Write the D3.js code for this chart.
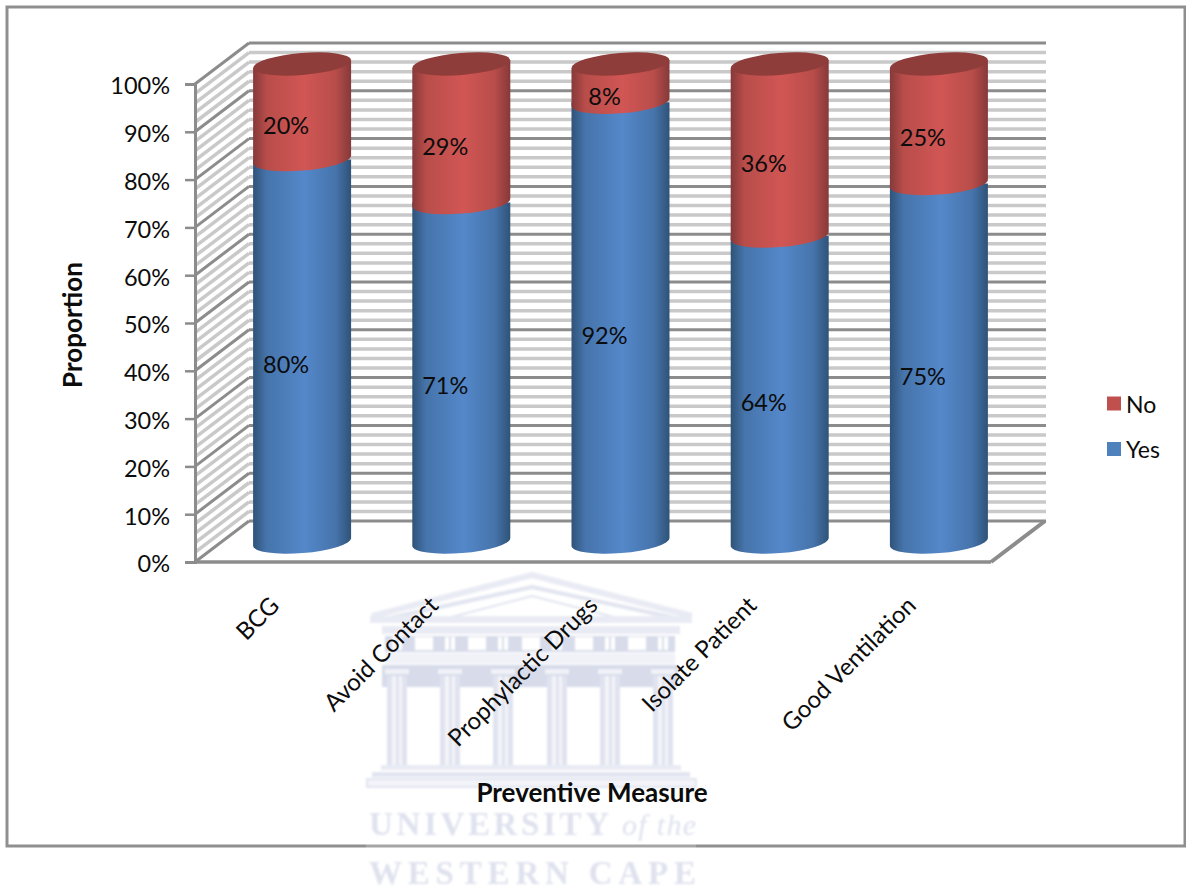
<!DOCTYPE html>
<html>
<head>
<meta charset="utf-8">
<script src="https://cdn.jsdelivr.net/npm/d3@7/dist/d3.min.js"></script>
<style>
  html, body { margin: 0; padding: 0; background: #fff; }
  svg { display: block; }
  text { font-family: Lato, "Open Sans", sans-serif; fill: #0c0c0c; }
</style>
</head>
<body>
<svg id="chart" width="1186" height="890"></svg>
<script>
// Prevention measures, stacked share of Yes / No answers
const categories = ["BCG", "Avoid Contact", "Prophylactic Drugs", "Isolate Patient", "Good Ventilation"];
const yesValues = [80, 71, 92, 64, 75];
const noValues = [20, 29, 8, 36, 25];
const yTicks = [0, 10, 20, 30, 40, 50, 60, 70, 80, 90, 100];
const minorTicks = d3.range(0, 101, 2).filter(v => v % 10 !== 0);
const legendItems = [["No", "#c0504d"], ["Yes", "#4f81bd"]];

// Crest columns behind the chart
const crestColumns = [397, 450, 503, 557, 610, 663];
const crestMetopes = [415, 468, 522, 575, 628];

const svg = d3.select("#chart");
const defs = svg.append("defs");
defs.append("filter").attr("id", "crestSoft").append("feGaussianBlur").attr("stdDeviation", 0.8);

// Horizontal shading that makes each bar read as a cylinder
function shade(id, edge, mid, peak) {
  const g = defs.append("linearGradient").attr("id", id)
    .attr("x1", 0).attr("x2", 1).attr("y1", 0).attr("y2", 0);
  [[0, edge], [0.14, mid], [0.52, peak], [0.84, mid], [1, edge]].forEach(([o, c]) =>
    g.append("stop").attr("offset", o).attr("stop-color", c));
}
shade("blueShade", "#2f5378", "#4674ab", "#5488ca");
shade("redShade", "#86393a", "#b84d4a", "#d15654");

// University crest, pale and underneath everything else
const crest = svg.append("g").attr("class", "crest").attr("filter", "url(#crestSoft)");
const pale = "#e2e5f0", paler = "#e9ebf4", deep = "#d7dbea";
crest.append("path").attr("d", "M372,616 L532,575 L692,616")
  .attr("fill", "none").attr("stroke", paler).attr("stroke-width", 6);
crest.append("path").attr("d", "M385,619 L532,587 L680,619")
  .attr("fill", "none").attr("stroke", pale).attr("stroke-width", 4);
crest.append("path").attr("d", "M440,620 L532,596 L626,620")
  .attr("fill", "none").attr("stroke", pale).attr("stroke-width", 2);
crest.append("rect").attr("x", 370).attr("y", 616).attr("width", 322).attr("height", 7).attr("fill", paler);
crest.append("rect").attr("x", 382).attr("y", 626).attr("width", 298).attr("height", 8).attr("fill", paler);
crest.append("rect").attr("x", 385).attr("y", 636).attr("width", 290).attr("height", 16).attr("fill", deep);
crest.selectAll("rect.metope").data(crestMetopes).join("rect").attr("class", "metope")
  .attr("x", d => d).attr("y", 637).attr("width", 18).attr("height", 13).attr("fill", "#fff");
crest.selectAll("rect.slitA").data(crestColumns).join("rect").attr("class", "slitA")
  .attr("x", d => d - 5).attr("y", 637).attr("width", 4).attr("height", 13).attr("fill", "#fff");
crest.selectAll("rect.slitB").data(crestColumns).join("rect").attr("class", "slitB")
  .attr("x", d => d + 1).attr("y", 637).attr("width", 4).attr("height", 13).attr("fill", "#fff");
crest.append("rect").attr("x", 385).attr("y", 653).attr("width", 290).attr("height", 11).attr("fill", "#f1f2f8");
crest.append("rect").attr("x", 382).attr("y", 665).attr("width", 296).attr("height", 22).attr("fill", deep);
crest.selectAll("rect.cap").data(crestColumns).join("rect").attr("class", "cap")
  .attr("x", d => d - 12).attr("y", 669).attr("width", 24).attr("height", 5).attr("fill", "#f1f2f8");
crest.selectAll("rect.shaft").data(crestColumns).join("rect").attr("class", "shaft")
  .attr("x", d => d - 10).attr("y", 676).attr("width", 20).attr("height", 90).attr("fill", "#e0e3ef");
crest.selectAll("rect.grooveA").data(crestColumns).join("rect").attr("class", "grooveA")
  .attr("x", d => d - 5).attr("y", 676).attr("width", 4).attr("height", 90).attr("fill", "#f3f4f9");
crest.selectAll("rect.grooveB").data(crestColumns).join("rect").attr("class", "grooveB")
  .attr("x", d => d + 2).attr("y", 676).attr("width", 3).attr("height", 90).attr("fill", "#f3f4f9");
crest.append("rect").attr("x", 381).attr("y", 765).attr("width", 300).attr("height", 5).attr("fill", paler);
crest.append("rect").attr("x", 372).attr("y", 772).attr("width", 318).attr("height", 5).attr("fill", pale);
crest.append("rect").attr("x", 367).attr("y", 779).attr("width", 329).attr("height", 8).attr("fill", "#f3f4f9")
  .attr("stroke", pale).attr("stroke-width", 2);
crest.append("text").attr("x", 369).attr("y", 835).attr("textLength", 240).attr("lengthAdjust", "spacing")
  .style("font-family", "'Liberation Serif', serif").style("font-weight", 700).style("font-size", "33px")
  .style("fill", "#dfe2ee").text("UNIVERSITY");
crest.append("text").attr("x", 622).attr("y", 835).attr("textLength", 74).attr("lengthAdjust", "spacing")
  .style("font-family", "'Liberation Serif', serif").style("font-style", "italic").style("font-size", "30px")
  .style("fill", "#dfe2ee").text("of the");
crest.append("text").attr("x", 369).attr("y", 884).attr("textLength", 327).attr("lengthAdjust", "spacing")
  .style("font-family", "'Liberation Serif', serif").style("font-weight", 700).style("font-size", "33px")
  .style("fill", "#dfe2ee").text("WESTERN  CAPE");

// Outer chart border
svg.append("rect").attr("x", 7).attr("y", 7).attr("width", 1178).attr("height", 839)
  .attr("fill", "none").attr("stroke", "#8f8f8f").attr("stroke-width", 3);
svg.append("rect").attr("x", 366).attr("y", 843).attr("width", 330).attr("height", 6)
  .attr("fill", "#fff").attr("opacity", 0.2);

// Scales: front plane of the 3-D box, plus the depth offset of its back wall
const x = d3.scaleBand().domain(categories).range([195, 991]);
const y = d3.scaleLinear().domain([0, 100]).range([562, 84]);
const depthX = 54, depthY = -41;
const barShiftX = 27.5, barShiftY = -20;
const rx = 49, ry = 11, tilt = 4;

const wall = svg.append("g").attr("class", "walls").attr("fill", "none");
const gridLight = "#c9c9c9", gridDark = "#8c8c8c";

// Minor grid on the back and side walls
wall.selectAll("line.backMinor").data(minorTicks).join("line").attr("class", "backMinor")
  .attr("x1", 195 + depthX).attr("x2", 991 + depthX + 1)
  .attr("y1", d => y(d) + depthY).attr("y2", d => y(d) + depthY)
  .attr("stroke", gridLight).attr("stroke-width", 3.5);
wall.selectAll("line.sideMinor").data(minorTicks).join("line").attr("class", "sideMinor")
  .attr("x1", 195).attr("x2", 195 + depthX)
  .attr("y1", d => y(d)).attr("y2", d => y(d) + depthY)
  .attr("stroke", gridLight).attr("stroke-width", 3.5);

// Major grid, which also closes the floor edges
wall.selectAll("line.backMajor").data(yTicks).join("line").attr("class", "backMajor")
  .attr("x1", 195 + depthX).attr("x2", 991 + depthX + 1)
  .attr("y1", d => y(d) + depthY).attr("y2", d => y(d) + depthY)
  .attr("stroke", gridDark).attr("stroke-width", 3);
wall.selectAll("line.sideMajor").data(yTicks).join("line").attr("class", "sideMajor")
  .attr("x1", 195).attr("x2", 195 + depthX)
  .attr("y1", d => y(d)).attr("y2", d => y(d) + depthY)
  .attr("stroke", gridDark).attr("stroke-width", 3);
wall.append("line").attr("x1", 991).attr("x2", 991 + depthX)
  .attr("y1", y(0)).attr("y2", y(0) + depthY)
  .attr("stroke", gridDark).attr("stroke-width", 4);
wall.append("line").attr("x1", 195).attr("x2", 991)
  .attr("y1", y(0)).attr("y2", y(0))
  .attr("stroke", gridDark).attr("stroke-width", 3.5);

// Value axis
const yAxis = svg.append("g").attr("transform", "translate(195,0)")
  .call(d3.axisLeft(y).tickValues(yTicks).tickSize(10).tickPadding(15).tickFormat(d => d + "%"));
yAxis.select(".domain").attr("stroke", gridDark).attr("stroke-width", 3);
yAxis.selectAll(".tick line").attr("stroke", gridDark).attr("stroke-width", 2.5);
yAxis.selectAll(".tick text").attr("dy", "0.42em").style("font-family", "Lato, sans-serif").style("font-size", "23.5px")
  .style("fill", "#0c0c0c");

// Category labels, slanted and ending under each bar
svg.append("g").selectAll("text").data(categories).join("text")
  .attr("text-anchor", "end")
  .attr("transform", d => `translate(${x(d) + x.bandwidth() / 2 + 6},${607}) rotate(-45)`)
  .style("font-size", "24px").text(d => d);

// Cylinders, one stacked pair per category
const bars = svg.append("g").selectAll("g").data(categories.map((c, i) => ({
  c, yes: yesValues[i], no: noValues[i]
}))).join("g");

const cx = d => x(d.c) + x.bandwidth() / 2 + barShiftX;
const by = v => y(v) + barShiftY;
const rot = -Math.asin(tilt / rx) * 180 / Math.PI;
const frontArc = (x1, yRight) => `A${rx},${ry} ${rot} 0 0 ${x1},${yRight}`;

bars.append("path").attr("fill", "url(#blueShade)").attr("d", d => {
  const c = cx(d), l = c - rx, r = c + rx;
  return `M${l},${by(d.yes)} L${l},${by(0) + tilt} ` + frontArc(r, by(0) - tilt) +
    ` L${r},${by(d.yes)} Z`;
});
bars.append("path").attr("fill", "url(#redShade)").attr("d", d => {
  const c = cx(d), l = c - rx, r = c + rx, t = d.yes + d.no;
  return `M${l},${by(t) + tilt} L${l},${by(d.yes) + tilt} ` + frontArc(r, by(d.yes) - tilt) +
    ` L${r},${by(t) - tilt} Z`;
});
bars.append("ellipse").attr("fill", "#8f3d3a")
  .attr("rx", rx).attr("ry", ry)
  .attr("transform", d => `translate(${cx(d)},${by(d.yes + d.no)}) rotate(${rot})`);

// Value labels sit left of the bar axis, just below each segment's middle
const labelDx = -16, labelDy = 13;
bars.append("text").attr("text-anchor", "middle").attr("dominant-baseline", "central")
  .attr("x", d => cx(d) + labelDx).attr("y", d => by(d.yes / 2) + labelDy)
  .style("font-size", "23.5px").text(d => d.yes + "%");
bars.append("text").attr("text-anchor", "middle").attr("dominant-baseline", "central")
  .attr("x", d => cx(d) + labelDx).attr("y", d => by(d.yes + d.no / 2) + labelDy)
  .style("font-size", "23.5px").text(d => d.no + "%");

// Axis titles
svg.append("text").attr("text-anchor", "middle").attr("transform", "translate(82,325) rotate(-90)")
  .style("font-size", "26px").style("font-weight", 700).text("Proportion");
svg.append("text").attr("text-anchor", "middle").attr("x", 592).attr("y", 802)
  .style("font-size", "26px").style("font-weight", 700).text("Preventive Measure");

// Legend
const legend = svg.append("g").selectAll("g").data(legendItems).join("g")
  .attr("transform", (d, i) => `translate(1107,${396.5 + i * 45.5})`);
legend.append("rect").attr("width", 14).attr("height", 14).attr("fill", d => d[1]);
legend.append("text").attr("x", 19).attr("y", 7).attr("dominant-baseline", "central")
  .style("font-size", "23px").text(d => d[0]);
</script>
</body>
</html>
